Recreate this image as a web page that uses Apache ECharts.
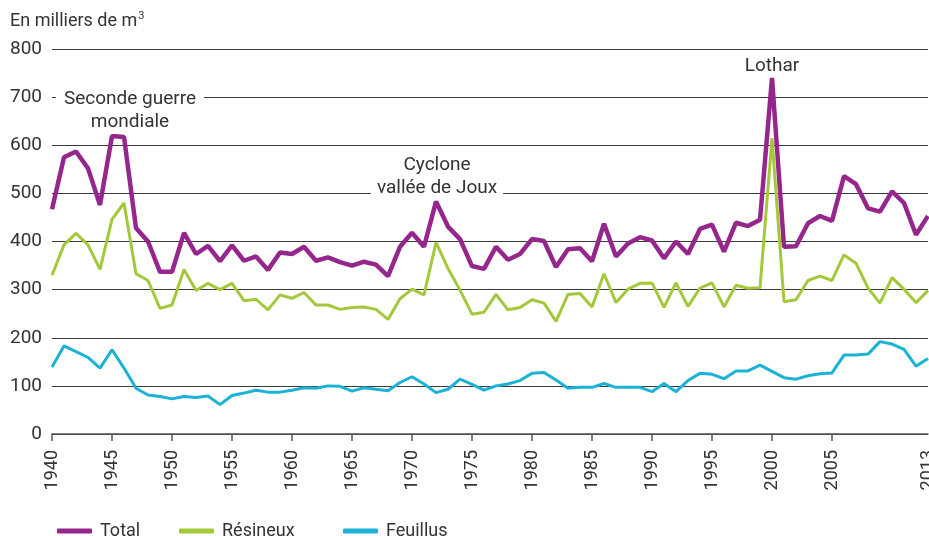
<!DOCTYPE html>
<html>
<head>
<meta charset="utf-8">
<script src="https://cdn.jsdelivr.net/npm/echarts@6/dist/echarts.min.js"></script>
<style>
  html, body { margin: 0; padding: 0; background: #fff; overflow: hidden; }
  #chart { width: 929px; height: 536px; }
</style>
</head>
<body>
<div id="chart"></div>
<script>
const years = [];
for (let y = 1940; y <= 2013; y++) years.push(String(y));
const labelYears = ["1940","1945","1950","1955","1960","1965","1970","1975","1980","1985","1990","1995","2000","2005","2013"];
const yTicks = [0, 100, 200, 300, 400, 500, 600, 700, 800];

const total = [
  467, 575, 587, 552, 476, 619, 617, 428, 400, 337,
  337, 418, 374, 391, 359, 392, 360, 369, 341, 377,
  374, 389, 360, 367, 357, 350, 358, 352, 328, 389,
  418, 389, 483, 431, 405, 349, 343, 389, 362, 374,
  405, 401, 347, 384, 386, 359, 437, 369, 396, 409,
  402, 365, 400, 374, 426, 435, 379, 439, 432, 445,
  740, 389, 390, 438, 453, 443, 536, 519, 469, 462,
  504, 480, 414, 453
];
const resineux = [
  330, 393, 417, 393, 342, 446, 480, 333, 319, 261,
  268, 342, 298, 313, 300, 313, 277, 280, 258, 289,
  282, 294, 268, 268, 259, 263, 264, 259, 238, 281,
  301, 289, 398, 344, 299, 249, 253, 290, 258, 263,
  279, 272, 234, 290, 292, 264, 333, 273, 301, 313,
  314, 263, 314, 265, 303, 314, 264, 309, 303, 304,
  615, 275, 279, 319, 328, 319, 372, 355, 303, 272,
  325, 301, 273, 298
];
const feuillus = [
  139, 183, 171, 159, 137, 175, 137, 95, 81, 78,
  73, 78, 76, 79, 61, 80, 85, 91, 87, 87,
  91, 96, 95, 100, 99, 89, 96, 93, 90, 107,
  119, 104, 86, 93, 114, 103, 91, 100, 104, 111,
  126, 128, 112, 95, 97, 97, 105, 97, 97, 97,
  88, 105, 88, 111, 126, 124, 115, 131, 131, 143,
  130, 117, 114, 121, 125, 127, 164, 164, 166, 192,
  187, 176, 141, 157
];

const FONT = "Roboto, 'Liberation Sans', sans-serif";
const TXT = "#333333";
const cPurple = "#94268c";
const cGreen = "#a3c93a";
const cBlue = "#1cb2d7";

// width of the unit label, so the superscript sits right after it
const ctx = document.createElement("canvas").getContext("2d");
ctx.font = "18px " + FONT;
const unitW = ctx.measureText("En milliers de m").width;

const chart = echarts.init(document.getElementById("chart"));

function legendAt(left, name, color) {
  return {
    left: left,
    top: 517,
    icon: "roundRect",
    itemWidth: 35,
    itemHeight: 5,
    itemGap: 0,
    data: [{ name: name, itemStyle: { color: color } }],
    textStyle: { fontFamily: FONT, fontSize: 18, color: TXT, padding: [0, 0, 0, 3] },
    selectedMode: false
  };
}

const option = {
  animation: false,
  textStyle: { fontFamily: FONT },
  grid: { left: 52, right: 1, top: 49, bottom: 102, containLabel: false, outerBoundsMode: "none" },
  legend: [
    legendAt(52, "Total", cPurple),
    legendAt(174, "Résineux", cGreen),
    legendAt(338, "Feuillus", cBlue)
  ],
  xAxis: {
    type: "category",
    data: years,
    boundaryGap: false,
    axisLine: { lineStyle: { color: "#555", width: 1.5 } },
    axisTick: {
      length: 7,
      lineStyle: { color: "#555", width: 1.5 },
      interval: (i, v) => labelYears.includes(v) && v !== "2013"
    },
    axisLabel: {
      rotate: 90,
      margin: 16,
      fontSize: 18,
      color: TXT,
      fontFamily: FONT,
      interval: (i, v) => labelYears.includes(v)
    },
    splitLine: { show: false }
  },
  yAxis: {
    type: "value",
    min: yTicks[0],
    max: yTicks[yTicks.length - 1],
    interval: 100,
    axisLine: { show: false },
    axisTick: { show: false },
    axisLabel: { fontSize: 19, color: TXT, margin: 10, fontFamily: FONT },
    splitLine: { lineStyle: { color: "#3a3a3a", width: 1 } }
  },
  series: [
    { name: "Total", type: "line", data: total, showSymbol: false,
      lineStyle: { color: cPurple, width: 4.5 }, itemStyle: { color: cPurple } },
    { name: "Résineux", type: "line", data: resineux, showSymbol: false,
      lineStyle: { color: cGreen, width: 3 }, itemStyle: { color: cGreen } },
    { name: "Feuillus", type: "line", data: feuillus, showSymbol: false,
      lineStyle: { color: cBlue, width: 3 }, itemStyle: { color: cBlue } }
  ],
  graphic: [
    { type: "text", left: 10, top: 12,
      style: { text: "En milliers de m", font: "18px " + FONT, fill: TXT } },
    { type: "text", left: 10 + unitW + 1, top: 11,
      style: { text: "3", font: "11px " + FONT, fill: TXT } },
    { type: "text", x: 130, y: 88, z: 10,
      style: { text: "Seconde guerre\nmondiale", font: "19px " + FONT, fill: TXT,
        align: "center", lineHeight: 23, backgroundColor: "#fff", padding: [0, 8, 0, 8] } },
    { type: "text", x: 437, y: 154, z: 10,
      style: { text: "Cyclone\nvallée de Joux", font: "19px " + FONT, fill: TXT,
        align: "center", lineHeight: 23, backgroundColor: "#fff", padding: [0, 6, 0, 6] } },
    { type: "text", x: 772, y: 57, z: 10,
      style: { text: "Lothar", font: "19px " + FONT, fill: TXT, align: "center" } }
  ]
};

chart.setOption(option);
</script>
</body>
</html>
